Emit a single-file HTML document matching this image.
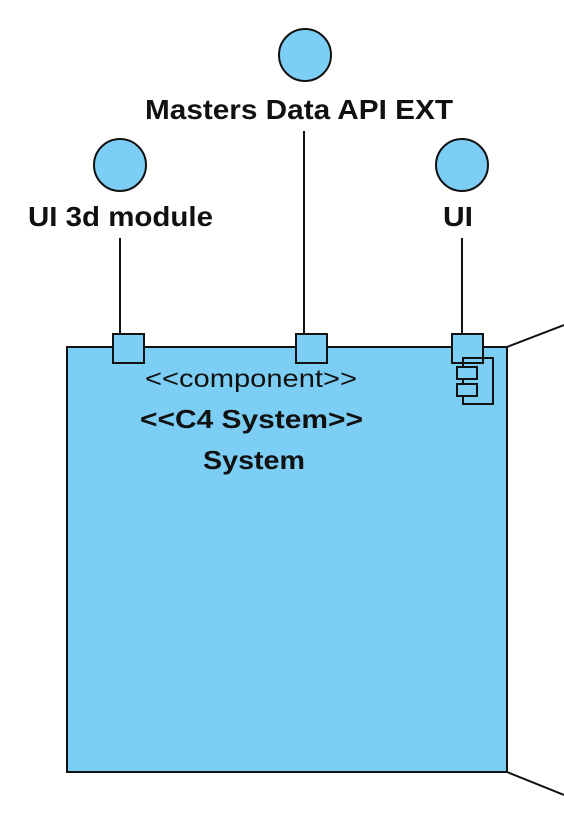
<!DOCTYPE html>
<html><head><style>
html,body{margin:0;padding:0;background:#fff;}
svg{display:block;}
text{font-family:"Liberation Sans",Arial,sans-serif;fill:#111;}
</style></head><body>
<svg width="564" height="824" viewBox="0 0 564 824" xmlns="http://www.w3.org/2000/svg">
<g stroke="#111" stroke-width="2" fill="#7ccef4">
<line x1="120" y1="238" x2="120" y2="334" fill="none"/>
<line x1="304" y1="131" x2="304" y2="334" fill="none"/>
<line x1="462" y1="238" x2="462" y2="334" fill="none"/>
<line x1="507" y1="347" x2="564" y2="325" fill="none"/>
<line x1="507" y1="772" x2="564" y2="795" fill="none"/>
<circle cx="305" cy="55" r="26"/>
<circle cx="120" cy="165" r="26"/>
<circle cx="462" cy="165" r="26"/>
<rect x="67" y="347" width="440" height="425"/>
<rect x="113" y="334" width="31" height="29"/>
<rect x="296" y="334" width="31" height="29"/>
<rect x="452" y="334" width="31" height="29"/>
<rect x="463" y="358" width="30" height="46" fill="none"/>
<rect x="457" y="367" width="20" height="12"/>
<rect x="457" y="384" width="20" height="12"/>
</g>
<text x="145" y="119" font-size="28" font-weight="bold" textLength="308" lengthAdjust="spacingAndGlyphs">Masters Data API EXT</text>
<text x="28" y="226" font-size="28" font-weight="bold" textLength="185" lengthAdjust="spacingAndGlyphs">UI 3d module</text>
<text x="443" y="226" font-size="28" font-weight="bold" textLength="30" lengthAdjust="spacingAndGlyphs">UI</text>
<text x="145" y="387" font-size="25" textLength="212" lengthAdjust="spacingAndGlyphs">&lt;&lt;component&gt;&gt;</text>
<text x="140" y="428" font-size="26" font-weight="bold" textLength="223" lengthAdjust="spacingAndGlyphs">&lt;&lt;C4 System&gt;&gt;</text>
<text x="203" y="469" font-size="26" font-weight="bold" textLength="102" lengthAdjust="spacingAndGlyphs">System</text>
</svg>
</body></html>
